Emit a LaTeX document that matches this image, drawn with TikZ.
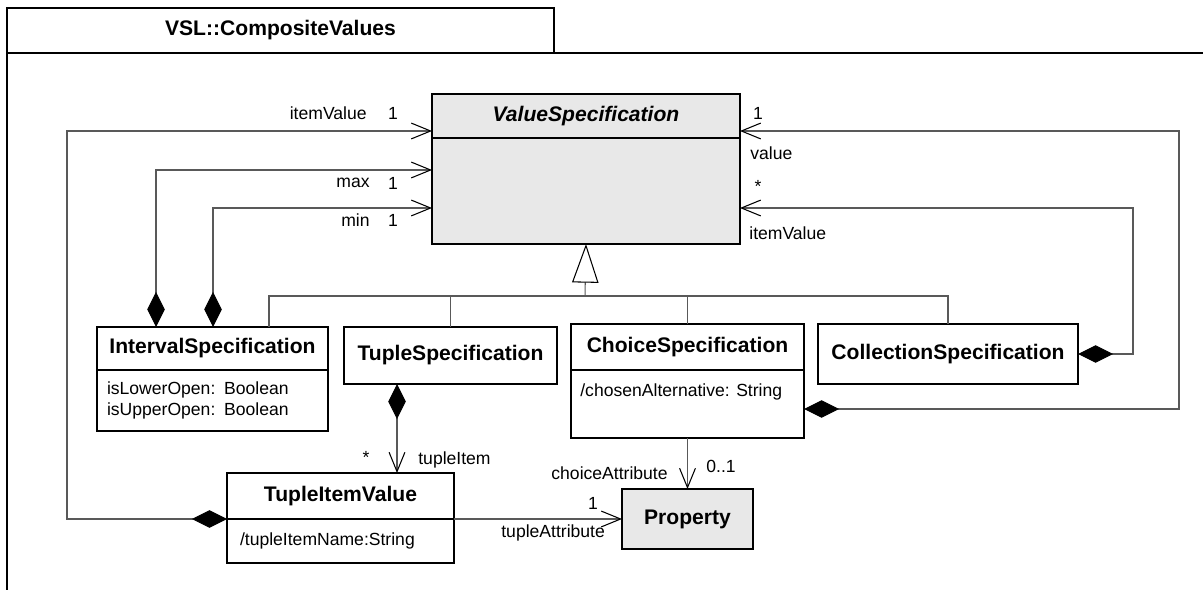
\documentclass[tikz,border=0pt]{standalone}
\usepackage{fontspec}
\setmainfont{Liberation Sans}
\usetikzlibrary{arrows.meta, calc}

\def\pxu{0.02cm}

\tikzset{
	cls/.style={draw, line width=0.7pt, anchor=north west, inner sep=0pt, outer sep=0pt, font=\bfseries\fontsize{12}{14}\selectfont},
	attr/.style={draw, line width=0.7pt, anchor=north west, inner ysep=0pt, outer sep=0pt, align=left},
	lbl/.style={inner sep=0pt},
	assoc/.style={draw=black!65, line width=0.6pt},
	comp/.style={assoc, arrows={{Diamond[length=20pt,width=10pt,color=black]}-{Straight Barb[length=11pt,width=9pt,color=black]}}},
	nav/.style={assoc, arrows={-{Straight Barb[length=11pt,width=9pt,color=black]}}},
	gen/.style={assoc, arrows={-{Triangle[open,length=22pt,width=15pt,color=black]}}}
}

\begin{document}
\begin{tikzpicture}[x=0.02cm, y=-0.02cm, font=\fontsize{10}{12}\selectfont]
	\useasboundingbox (0,0) rectangle (1203,590);

	% package frame
	\node[draw, line width=0.7pt, outer sep=0pt, anchor=north west, minimum width=547*\pxu, minimum height=45*\pxu, font=\bfseries\fontsize{12}{14}\selectfont] (pkg) at (7,8) {VSL::CompositeValues};
	\draw[line width=0.7pt] (pkg.south west -| 1203,0) -- (pkg.south west) -- (7,590);

	% classes
	\node[cls, fill=black!9, minimum width=308*\pxu, minimum height=44*\pxu, font=\bfseries\itshape\fontsize{12}{14}\selectfont] (vsname) at (432,94) {ValueSpecification};
	\node[attr, fill=black!9, minimum width=308*\pxu, minimum height=106*\pxu] (vsbody) at (vsname.south west) {};

	\node[cls, minimum width=231*\pxu, minimum height=43*\pxu] (intname) at (97,327) {IntervalSpecification};
	\node[attr, minimum width=231*\pxu, minimum height=61*\pxu, text width=211*\pxu, inner xsep=10*\pxu] (intbody) at (intname.south west) {isLowerOpen: Boolean\\isUpperOpen: Boolean};

	\node[cls, minimum width=213*\pxu, minimum height=57*\pxu] (tuple) at (344,327) {TupleSpecification};

	\node[cls, minimum width=233*\pxu, minimum height=46*\pxu] (chname) at (571,324) {ChoiceSpecification};
	\node[attr, minimum width=233*\pxu, minimum height=68*\pxu] (chbody) at (chname.south west) {};
	\node[lbl, anchor=north west] (chattr) at ($(chbody.north west)+(9,13)$) {/chosenAlternative: String};

	\node[cls, minimum width=260*\pxu, minimum height=60*\pxu] (coll) at (818,324) {CollectionSpecification};

	\node[cls, minimum width=227*\pxu, minimum height=46*\pxu] (tivname) at (227,473) {TupleItemValue};
	\node[attr, minimum width=227*\pxu, minimum height=44*\pxu, text width=201*\pxu, inner xsep=13*\pxu] (tivbody) at (tivname.south west) {/tupleItemName:String};

	\node[cls, fill=black!9, minimum width=131*\pxu, minimum height=60*\pxu] (prop) at (622,489) {Property};

	% generalization
	\coordinate (bus) at (585,296);
	\draw[gen] (bus) -- (vsbody.south);
	\draw[assoc] ($(intname.north west)+(172,0)$) |- (bus);
	\draw[assoc] (tuple.north) |- (bus);
	\draw[assoc] (chname.north) |- (bus);
	\draw[assoc] (coll.north) |- (bus);

	% compositions
	\draw[comp] ($(intname.north west)+(59,0)$) |- (vsbody.west |- 0,170);
	\draw[comp] ($(intname.north west)+(116,0)$) |- (vsbody.west |- 0,208);
	\draw[comp] (tivname.south west) -- ++(-160,0) |- (vsname.west |- 0,131);
	\draw[comp] (chbody.east |- 0,409) -| (1179,131) -- (vsname.east |- 0,131);
	\draw[comp] (coll.east) -| (1133,208) -- (vsbody.east |- 0,208);
	\coordinate (tdown) at ($(tuple.south west)+(53,0)$);
	\draw[comp] (tdown) -- (tdown |- tivname.north);

	% associations to Property
	\draw[nav] (tivname.south east) -- (prop.west);
	\draw[nav] (chbody.south) -- (prop.north);

	% role names and multiplicities
	\node[lbl, anchor=east] (litem) at (367,113) {itemValue};
	\node[lbl] (mitem) at (393,113) {1};
	\node[lbl, anchor=east] (lmax) at (370,183) {max};
	\node[lbl] (mmax) at (393,183) {1};
	\node[lbl, anchor=east] (lmin) at (370,220) {min};
	\node[lbl] (mmin) at (393,220) {1};
	\node[lbl] (mvalue) at (758,113) {1};
	\node[lbl, anchor=west] (lvalue) at (750,153) {value};
	\node[lbl] (mcoll) at (758,186) {*};
	\node[lbl, anchor=west] (lcoll) at (749,233) {itemValue};
	\node[lbl] (mtuple) at (366,457) {*};
	\node[lbl, anchor=west] (ltuple) at (418,460) {tupleItem};
	\node[lbl, anchor=east] (lchoice) at (668,473) {choiceAttribute};
	\node[lbl, anchor=west] (mchoice) at (706,466) {0..1};
	\node[lbl] (mtattr) at (593,503) {1};
	\node[lbl, anchor=west] (ltattr) at (501,533) {tupleAttribute};
\end{tikzpicture}
\end{document}
